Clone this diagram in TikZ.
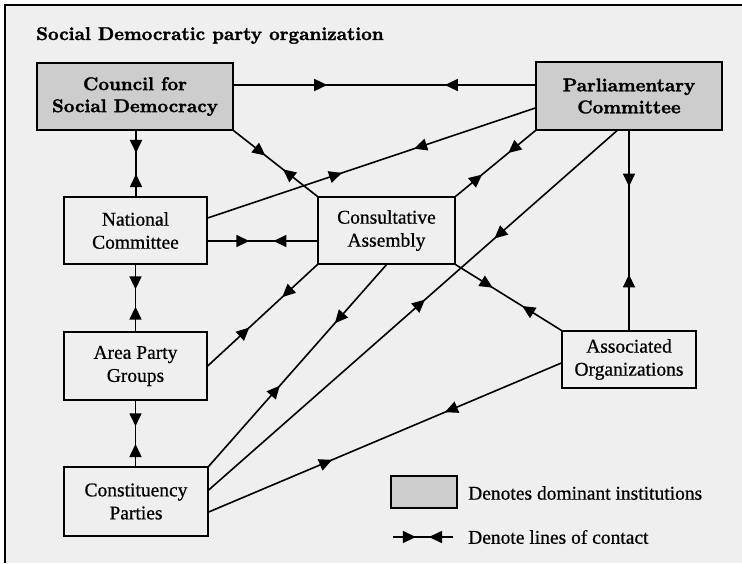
\documentclass[tikz,border=0pt]{standalone}
\usepackage{fontspec}
\newfontfamily\tms{Liberation Serif}[FakeBold=0.6]
\newfontfamily\lmbold{lmroman10-bold}[Extension=.otf, FakeBold=1.6]
\usetikzlibrary{arrows.meta,decorations.markings}
\definecolor{pagebg}{HTML}{EFEFEF}
\definecolor{domfill}{HTML}{CDCDCD}
\tikzset{
  >={Triangle[length=13pt,width=12pt]},
  plainbox/.style={draw, line width=1.3pt, align=center, inner sep=0pt,
    font=\tms\fontsize{19.5}{23}\selectfont},
  dombox/.style={draw, line width=1.3pt, fill=domfill, align=center, inner sep=0pt,
    font=\lmbold\fontsize{18.5}{22}\selectfont},
  contact/.style 2 args={line width=1.6pt, postaction={decorate},
    decoration={markings,
      mark=at position #1 with {\arrow{>}},
      mark=at position #2 with {\arrowreversed{>}}}},
  legtext/.style={anchor=west, inner sep=0pt, font=\tms\fontsize{19.5}{23}\selectfont}
}
\begin{document}
\begin{tikzpicture}[x=1pt,y=-1pt]
\useasboundingbox (0,0) rectangle (742,563);
\fill[white] (0,0) rectangle (742,563);
\fill[pagebg] (5,5) rectangle (742,563);
\draw[line width=1.5pt] (5,563) -- (5,5) -- (742,5);

\node[anchor=base west, inner sep=0pt, font=\lmbold\fontsize{18.5}{22}\selectfont] (title) at (36,40) {Social Democratic party organization};

\node[dombox, minimum width=196pt, minimum height=67pt] (council) at (135,96.5) {Council for\\Social Democracy};
\node[dombox, minimum width=186pt, minimum height=68pt] (parl) at (629,96) {Parliamentary\\Committee};
\node[plainbox, minimum width=143pt, minimum height=67pt] (natl) at (135.5,230.5) {National\\Committee};
\node[plainbox, minimum width=137pt, minimum height=67pt] (consult) at (386.5,230.5) {Consultative\\Assembly};
\node[plainbox, minimum width=143pt, minimum height=68pt] (area) at (135.5,366) {Area Party\\Groups};
\node[plainbox, minimum width=144pt, minimum height=69pt] (const) at (136,501.5) {Constituency\\Parties};
\node[plainbox, minimum width=134pt, minimum height=57pt] (assoc) at (629,359.5) {Associated\\Organizations};

% connectors
\draw[contact={0.31}{0.70}] ([yshift=11.5pt]council.east) -- ([yshift=11pt]parl.west);
\draw[contact={0.34}{0.66}] ([xshift=1pt]council.south) -- ([xshift=1pt]council.south |- natl.north);
\draw[contact={0.38}{0.59}] (council.south east) -- (consult.north west);
\draw[contact={0.41}{0.63}] ([yshift=12.5pt]natl.east) -- ([yshift=-12pt]parl.west);
\draw[contact={0.38}{0.60}] ([yshift=-10.5pt]natl.east) -- ([yshift=-10.5pt]consult.west);
\draw[contact={0.34}{0.67}] (parl.south west) -- (consult.north east);
\draw[contact={0.53}{0.70}] ([yshift=11.5pt]const.east) -- ([xshift=-12pt]parl.south);
\draw[contact={0.35}{0.63}] (consult.south east) -- (assoc.north west);
\draw[contact={0.28}{0.72}] (parl.south) -- (assoc.north);
\draw[contact={0.37}{0.63}] (natl.south) -- (area.north);
\draw[contact={0.39}{0.66}] (area.south) -- (area.south |- const.north);
\draw[contact={0.38}{0.68}] (area.east) -- (consult.south west);
\draw[contact={0.40}{0.71}] (const.north east) -- (consult.south);
\draw[contact={0.35}{0.67}] ([yshift=-10.5pt]const.east) -- ([yshift=-3.5pt]assoc.west);

% legend
\node[draw, line width=1.3pt, fill=domfill, minimum width=66pt, minimum height=32pt, inner sep=0pt] (legbox) at (424,492) {};
\node[legtext] (legdom) at (468,493) {Denotes dominant institutions};
\coordinate (legA) at (393,537);
\coordinate (legB) at (453,537);
\draw[contact={0.38}{0.60}] (legA) -- (legB);
\node[legtext] (legcon) at (468,537) {Denote lines of contact};
\end{tikzpicture}
\end{document}
